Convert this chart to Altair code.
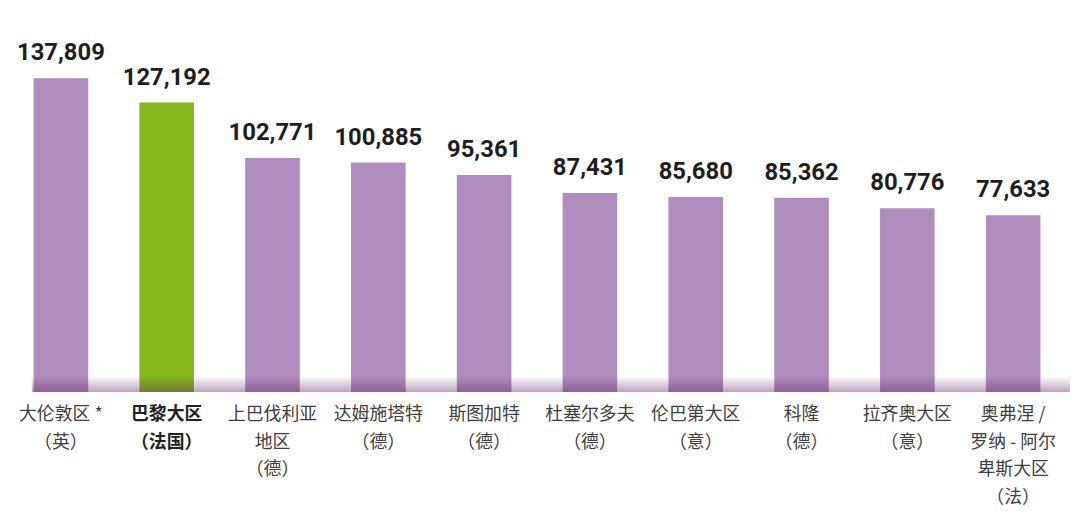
import altair as alt
import pandas as pd

categories = [
    "大伦敦区 *\n（英）",
    "巴黎大区\n（法国）",
    "上巴伐利亚\n地区\n（德）",
    "达姆施塔特\n（德）",
    "斯图加特\n（德）",
    "杜塞尔多夫\n（德）",
    "伦巴第大区\n（意）",
    "科隆\n（德）",
    "拉齐奥大区\n（意）",
    "奥弗涅 /\n罗纳 - 阿尔\n卑斯大区\n（法）",
]
values = [137809, 127192, 102771, 100885, 95361, 87431, 85680, 85362, 80776, 77633]
highlight = [False, True, False, False, False, False, False, False, False, False]

df = pd.DataFrame({"cat": categories, "value": values, "hl": highlight})
df["key"] = range(len(df))
df["lab"] = df["value"].map(lambda v: f"{v:,}")

W, H = 1066, 385
PURPLE = "#B08DBF"
GREEN = "#85B81D"

x = alt.X("key:O", axis=None, scale=alt.Scale(paddingInner=0, paddingOuter=0))
base = alt.Chart(df).encode(x=x)

yscale = alt.Scale(domain=[0, 167900], nice=False, zero=True)

bars = base.mark_bar(size=55).encode(
    y=alt.Y("value:Q", axis=None, scale=yscale),
    color=alt.Color("hl:N", scale=alt.Scale(domain=[False, True], range=[PURPLE, GREEN]), legend=None),
)

shade = alt.Chart(pd.DataFrame({"a": [0]})).mark_rect(
    color=alt.Gradient(
        gradient="linear",
        x1=0, y1=0, x2=0, y2=1,
        stops=[
            alt.GradientStop(color="rgba(90,25,90,0)", offset=0),
            alt.GradientStop(color="rgba(90,25,90,0.4)", offset=1),
        ],
    )
).encode(
    x=alt.value(24), x2=alt.value(W + 4), y=alt.value(H - 16), y2=alt.value(H)
)

vals = base.mark_text(
    baseline="bottom", dy=-13, fontSize=24, fontWeight="bold", font="Roboto", color="#1e1e1e"
).encode(
    y=alt.Y("value:Q", scale=yscale),
    text="lab:N",
)

cat_norm = base.transform_filter("!datum.hl").mark_text(
    baseline="top", fontSize=18, lineBreak="\n", lineHeight=28,
    font="Noto Sans CJK SC", color="#404040",
).encode(y=alt.value(H + 14), text="cat:N")

cat_bold = base.transform_filter("datum.hl").mark_text(
    baseline="top", fontSize=18, lineBreak="\n", lineHeight=28, fontWeight="bold",
    font="Noto Sans CJK SC", color="#222222",
).encode(y=alt.value(H + 14), text="cat:N")

chart = alt.layer(bars, shade, vals, cat_norm, cat_bold).properties(
    width=W, height=H,
    autosize=alt.AutoSizeParams(type="none"),
    padding={"left": 0, "top": 0, "right": 6, "bottom": 115},
).configure(background="white").configure_view(stroke=None, strokeWidth=0)

chart.save("out.html", embed_options={"renderer": "svg", "actions": False})
